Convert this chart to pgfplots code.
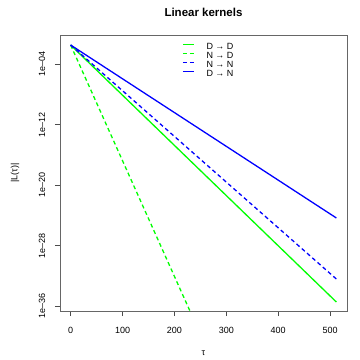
\documentclass[border=0pt]{standalone}
\usepackage{fontspec}
\setmainfont{Liberation Sans}
\usepackage{pgfplots}
\pgfplotsset{compat=1.18}
\definecolor{rgreen}{RGB}{0,255,0}
\definecolor{rblue}{RGB}{0,0,255}
\begin{document}
\begin{tikzpicture}
\useasboundingbox (-60bp,-49bp) rectangle (300bp,311bp);
\begin{axis}[at={(0,0)}, anchor=south west, scale only axis,
  width=287bp, height=276bp,
  xmin=-20.48, xmax=532.48,
  ymode=log, ymin=2.19e-37, ymax=0.684,
  axis line style={black!60, line width=0.7bp},
  every tick/.style={black!70, line width=0.6bp},
  tick align=outside, major tick length=5bp,
  xtick pos=bottom, ytick pos=left,
  minor tick num=0, yminorticks=false,
  xtick={0,100,200,300,400,500},
  xticklabels={0,100,200,300,400,500},
  ytick={1e-4,1e-12,1e-20,1e-28,1e-36},
  yticklabels={1e--04,1e--12,1e--20,1e--28,1e--36},
  tick label style={font=\fontsize{9bp}{10bp}\selectfont},
  xticklabel style={anchor=center, yshift=-14bp},
  yticklabel style={rotate=90, anchor=center, yshift=13bp},
  xlabel={τ}, ylabel={|L(τ)|},
  label style={font=\fontsize{9bp}{10bp}\selectfont},
  xlabel style={at={(axis description cs:0.5,0)}, anchor=center, yshift=-42bp},
  ylabel style={at={(axis description cs:0,0.5)}, anchor=center, yshift=45bp},
  title={Linear kernels},
  title style={at={(axis description cs:0.5,1)}, anchor=center, yshift=17bp,
    font=\bfseries\fontsize{11.5bp}{13bp}\selectfont},
  legend style={at={(0.4251,1)}, anchor=north west, yshift=-7.5bp,
    draw=none, fill=none, inner sep=0pt, row sep=0pt, column sep=0pt,
    font=\fontsize{9bp}{9bp}\selectfont,
    nodes={inner sep=0pt, text height=6.5bp, text depth=2.5bp}},
  legend cell align=left,
  legend image code/.code={\draw[#1] (0bp,2.5bp) -- (11bp,2.5bp);},
]
\addplot[rgreen, line width=1.3bp] coordinates {(0,0.0324) (512,3.39e-36)};
\addlegendentry{\hspace{12bp}D → D}
\addplot[rgreen, line width=1.3bp, dash pattern=on 4bp off 3bp] coordinates {(0,0.0324) (240,6.3e-39)};
\addlegendentry{\hspace{12bp}N → D}
\addplot[rblue, line width=1.3bp, dash pattern=on 4bp off 3bp] coordinates {(0,0.0324) (512,3.72e-33)};
\addlegendentry{\hspace{12bp}N → N}
\addplot[rblue, line width=1.3bp] coordinates {(0,0.0324) (512,4.37e-25)};
\addlegendentry{\hspace{12bp}D → N}
\end{axis}
\end{tikzpicture}
\end{document}
